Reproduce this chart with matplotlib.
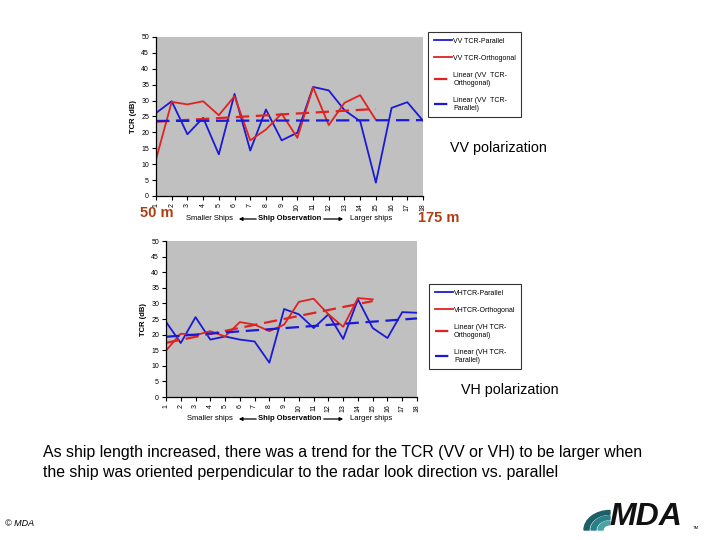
import matplotlib
matplotlib.use("Agg")
import matplotlib.pyplot as plt
import numpy as np

plt.rcParams['font.family'] = ['Liberation Sans', 'DejaVu Sans']

obs = list(range(1, 19))
vv_parallel = [26.1, 29.8, 19.4, 24.6, 13.1, 32.1, 14.3, 27.2, 17.5, 19.9,
               34.3, 33.2, 27.0, 23.5, 4.2, 27.7, 29.5, 23.7]
vv_orthogonal = [11.5, 29.6, 28.8, 29.8, 25.4, 31.4, 17.5, 20.9, 25.9, 18.3,
                 34.2, 22.3, 29.3, 31.7, 23.9]
vh_parallel = [24.1, 17.3, 25.6, 18.4, 19.4, 18.4, 17.8, 11.0, 28.2, 26.5,
               22.1, 26.5, 18.6, 31.3, 22.1, 18.9, 27.2, 27.0]
vh_orthogonal = [14.9, 20.3, 19.8, 21.1, 19.4, 24.0, 23.2, 21.1, 23.2, 30.5,
                 31.5, 26.5, 22.5, 31.7, 31.3]
yticks = list(range(0, 55, 5))

BLUE = '#1a1ad6'
RED = '#e02222'
GRAY = '#c0c0c0'
BROWN = '#b03c12'

fig = plt.figure(figsize=(7.2, 5.4), dpi=100)
W, H = 720.0, 540.0


def ax_at(l, t, r, b):
    return fig.add_axes([l / W, 1 - b / H, (r - l) / W, (b - t) / H])


def trend(x, y):
    x = np.asarray(x, float)
    k, c = np.polyfit(x, np.asarray(y, float), 1)
    return x, k * x + c


def panel(ax, par, orth, pol):
    ax.set_facecolor(GRAY)
    x_par = obs[:len(par)]
    x_orth = obs[:len(orth)]
    ax.plot(x_par, par, color=BLUE, lw=1.3, label=f'{pol}TCR-Parallel')
    ax.plot(x_orth, orth, color=RED, lw=1.3, label=f'{pol}TCR-Orthogonal')
    tx, ty = trend(x_orth, orth)
    ax.plot(tx, ty, color=RED, lw=1.6, ls=(0, (6, 3)),
            label=f'Linear ({pol} TCR-\nOrthogonal)')
    tx, ty = trend(x_par, par)
    ax.plot(tx, ty, color=BLUE, lw=1.6, ls=(0, (6, 3)),
            label=f'Linear ({pol} TCR-\nParallel)')
    ax.set_xlim(1, 18)
    ax.set_ylim(0, 50)
    ax.set_xticks(obs)
    ax.set_xticklabels([str(o) for o in obs], rotation=90, fontsize=5)
    ax.set_yticks(yticks)
    ax.set_yticklabels([str(v) for v in yticks], fontsize=5)
    ax.tick_params(length=3, width=0.8, pad=2)
    for s in ('top', 'right'):
        ax.spines[s].set_visible(False)
    for s in ('left', 'bottom'):
        ax.spines[s].set_linewidth(0.9)
    ax.set_ylabel('TCR (dB)', fontsize=5.5, fontweight='bold', labelpad=3)
    return ax


ax1 = panel(ax_at(156, 37, 423, 196), vv_parallel, vv_orthogonal, 'VV ')
ax2 = panel(ax_at(166, 241, 417, 397), vh_parallel, vh_orthogonal, 'VH')


def legend(ax, bbox):
    h, l = ax.get_legend_handles_labels()
    lg = ax.legend(h, l, loc='upper left', bbox_to_anchor=bbox,
                   bbox_transform=fig.transFigure, fontsize=5.0,
                   frameon=True, fancybox=False, edgecolor='black',
                   handlelength=2.6, labelspacing=1.45, borderpad=0.75,
                   handletextpad=0.2)
    lg.get_frame().set_linewidth(0.8)


legend(ax1, (425 / W, 1 - 29 / H))
legend(ax2, (426 / W, 1 - 281 / H))


def ft(x, y, s, **kw):
    fig.text(x / W, 1 - y / H, s, **kw)


ft(450, 148, 'VV polarization', fontsize=10.3, va='center')
ft(461, 390, 'VH polarization', fontsize=10.3, va='center')
ft(140, 213, '50 m', fontsize=10.5, fontweight='bold', color=BROWN, va='center')
ft(418, 218, '175 m', fontsize=10.5, fontweight='bold', color=BROWN, va='center')


def xlab(y, left, right):
    ft(210, y, left, fontsize=5.5, ha='center', va='center')
    ft(290, y, 'Ship Observation', fontsize=5.5, fontweight='bold',
       ha='center', va='center')
    ft(371, y, right, fontsize=5.5, ha='center', va='center')
    fig.patches.append(matplotlib.patches.FancyArrowPatch(
        (259 / W, 1 - y / H), (236 / W, 1 - y / H), transform=fig.transFigure,
        arrowstyle='-|>', mutation_scale=5, lw=0.9, color='black'))
    fig.patches.append(matplotlib.patches.FancyArrowPatch(
        (321 / W, 1 - y / H), (346 / W, 1 - y / H), transform=fig.transFigure,
        arrowstyle='-|>', mutation_scale=5, lw=0.9, color='black'))


xlab(219, 'Smaller Ships', 'Larger ships')
xlab(419, 'Smaller ships', 'Larger ships')

ft(43, 453, 'As ship length increased, there was a trend for the TCR (VV or VH) to be larger when',
   fontsize=11.4, va='center')
ft(43, 473, 'the ship was oriented perpendicular to the radar look direction vs. parallel',
   fontsize=11.4, va='center')
ft(5, 523, '\u00a9 MDA', fontsize=6.5, style='italic', va='center')

# MDA logo
ft(609, 517, 'MDA', fontsize=23, fontweight='bold', style='italic', va='center',
   color='#111111')
for i, r in enumerate([26, 19, 12]):
    fig.patches.append(matplotlib.patches.Wedge(
        (610 / W, 1 - 530 / H), r / W, 90, 180, width=5 / W,
        transform=fig.transFigure, color=['#1d5f66', '#2a8088', '#49a3a8'][i]))
ft(693, 528, 'TM', fontsize=3, va='center')

fig.savefig('out.png', dpi=100)
